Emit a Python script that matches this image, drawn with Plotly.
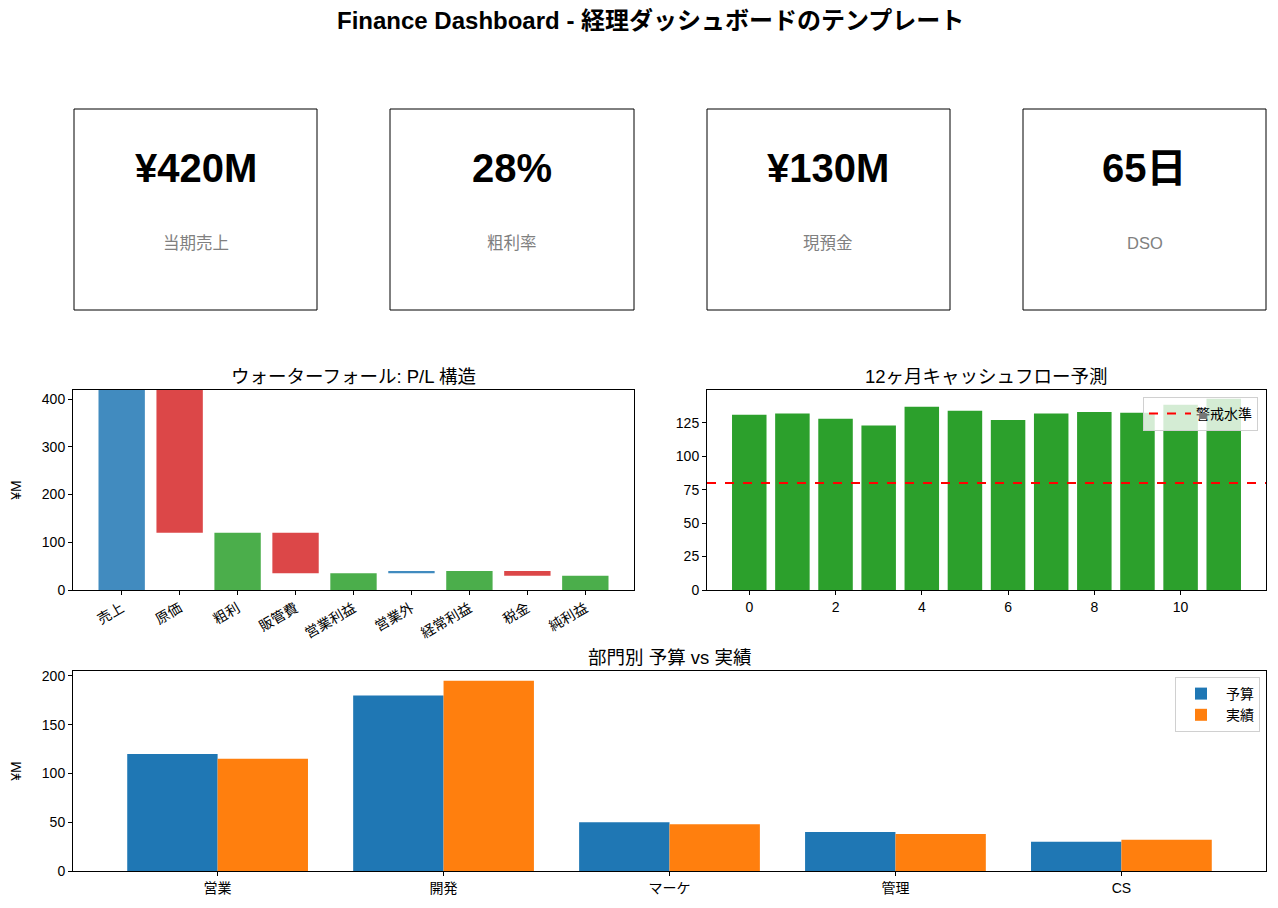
import plotly.graph_objects as go

# the page body has an 8px margin, so the figure is drawn 8px in from the window edge
OFF = 8
FW, FH = 1278 - 2 * OFF, 908 - 2 * OFF
FONT = "Liberation Sans, Noto Sans CJK JP"

# KPI cards
kpi_values = ["¥420M", "28%", "¥130M", "65日"]
kpi_labels = ["当期売上", "粗利率", "現預金", "DSO"]

# waterfall P/L
wf_items = ["売上", "原価", "粗利", "販管費", "営業利益", "営業外", "経常利益", "税金", "純利益"]
wf_base = [0, 120, 0, 35, 0, 35, 0, 30, 0]
wf_height = [420, 300, 120, 85, 35, 5, 40, 10, 30]
wf_kind = ["start", "down", "total", "down", "total", "up", "total", "down", "total"]

# 12 month cash flow forecast
cf_month = list(range(12))
cf_value = [131, 132, 128, 123, 137, 134, 127, 132, 133, 132.5, 138.5, 143]
cf_alert = 80

# budget vs actual by department
depts = ["営業", "開発", "マーケ", "管理", "CS"]
budget = [120, 180, 50, 40, 30]
actual = [115, 195, 48, 38, 32]

kind_color = {"start": "#418bbf", "up": "#418bbf", "down": "#dc4748", "total": "#4bae4b"}


def fx(px):
    return (px - OFF) / FW


def fy(py):
    return 1 - (py - OFF) / FH


def px_x(a, b):
    return [fx(a), fx(b)]


def px_y(top, bottom):
    return [fy(bottom), fy(top)]


fig = go.Figure()

fig.add_trace(go.Bar(x=wf_items, y=wf_height, base=wf_base,
                     marker=dict(color=[kind_color[k] for k in wf_kind], line_width=0),
                     showlegend=False, xaxis="x", yaxis="y"))

fig.add_trace(go.Bar(x=cf_month, y=cf_value, width=0.8,
                     marker=dict(color="#2ca02c", line_width=0),
                     showlegend=False, xaxis="x2", yaxis="y2"))
fig.add_trace(go.Scatter(x=[None], y=[None], mode="lines", name="警戒水準",
                         line=dict(color="red", dash="dash", width=2),
                         xaxis="x2", yaxis="y2", legend="legend"))

fig.add_trace(go.Bar(x=depts, y=budget, name="予算", marker=dict(color="#1f77b4", line_width=0),
                     xaxis="x3", yaxis="y3", legend="legend2", offsetgroup="a"))
fig.add_trace(go.Bar(x=depts, y=actual, name="実績", marker=dict(color="#ff7f0e", line_width=0),
                     xaxis="x3", yaxis="y3", legend="legend2", offsetgroup="b"))

axis_style = dict(showline=True, mirror=True, linecolor="black", linewidth=1,
                  ticks="outside", ticklen=4, tickcolor="black", showgrid=False,
                  zeroline=False, tickfont=dict(size=14, color="black"))

fig.update_layout(
    width=FW, height=FH,
    margin=dict(l=0, r=0, t=0, b=0, autoexpand=False),
    paper_bgcolor="white", plot_bgcolor="white",
    font=dict(family=FONT, color="black"),
    barmode="group", bargap=0.2, bargroupgap=0,
    xaxis=dict(domain=px_x(73, 634), anchor="y", range=[-0.84, 8.84], tickangle=-30,
               **axis_style),
    yaxis=dict(domain=px_y(390, 590), anchor="x", range=[0, 419], dtick=100,
               title=dict(text="¥M", font=dict(size=14), standoff=18), **axis_style),
    xaxis2=dict(domain=px_x(707, 1266), anchor="y2", range=[-0.98, 11.98], dtick=2,
                **axis_style),
    yaxis2=dict(domain=px_y(390, 590), anchor="x2", range=[0, 149.5], dtick=25, **axis_style),
    xaxis3=dict(domain=px_x(73, 1266), anchor="y3", range=[-0.64, 4.64], **axis_style),
    yaxis3=dict(domain=px_y(671, 871), anchor="x3", range=[0, 205], dtick=50,
                title=dict(text="¥M", font=dict(size=14), standoff=18), **axis_style),
    legend=dict(x=fx(1258), y=fy(397), xanchor="right", yanchor="top",
                bgcolor="rgba(255,255,255,0.8)", bordercolor="#d0d0d0", borderwidth=1,
                font=dict(size=14), itemwidth=42),
    legend2=dict(x=fx(1260), y=fy(677), xanchor="right", yanchor="top",
                 bgcolor="rgba(255,255,255,0.8)", bordercolor="#d0d0d0", borderwidth=1,
                 font=dict(size=14), tracegroupgap=2, itemwidth=40),
)

# title
annotations = [dict(text="<b>Finance Dashboard - 経理ダッシュボードのテンプレート</b>",
                    x=fx(650), y=fy(21), xref="paper", yref="paper", showarrow=False,
                    font=dict(size=24, color="black"), xanchor="center", yanchor="middle")]

# subplot titles
for text, x0, x1, y in [("ウォーターフォール: P/L 構造", 73, 634, 376),
                        ("12ヶ月キャッシュフロー予測", 707, 1266, 376),
                        ("部門別 予算 vs 実績", 73, 1266, 657)]:
    annotations.append(dict(text=text, x=fx((x0 + x1) / 2), y=fy(y), xref="paper",
                            yref="paper", showarrow=False, font=dict(size=18.5),
                            xanchor="center", yanchor="middle"))

# alert level line across the cash flow axes
shapes = [dict(type="line", xref="x2 domain", yref="y2", x0=0, x1=1,
               y0=cf_alert, y1=cf_alert, line=dict(color="red", dash="dash", width=2))]

# KPI cards
card_x = [(74, 317), (390, 634), (707, 950), (1023, 1266)]
for (x0, x1), val, lab in zip(card_x, kpi_values, kpi_labels):
    shapes.append(dict(type="rect", xref="paper", yref="paper",
                       x0=fx(x0), x1=fx(x1), y0=fy(310), y1=fy(109),
                       line=dict(color="black", width=1)))
    cx = fx((x0 + x1) / 2)
    annotations.append(dict(text=f"<b>{val}</b>", x=cx, y=fy(168), xref="paper",
                            yref="paper", showarrow=False, font=dict(size=40, color="black"),
                            xanchor="center", yanchor="middle"))
    annotations.append(dict(text=lab, x=cx, y=fy(243), xref="paper", yref="paper",
                            showarrow=False, font=dict(size=16.5, color="#808080"),
                            xanchor="center", yanchor="middle"))

fig.update_layout(annotations=annotations, shapes=shapes)

fig.write_html("out.html")
